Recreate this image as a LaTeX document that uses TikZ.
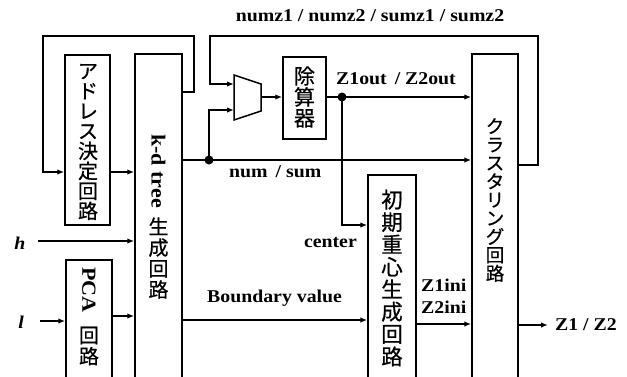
\documentclass[tikz,border=0pt]{standalone}
\usepackage{fontspec}
\setmainfont[FakeStretch=1.1]{Liberation Serif}
\newfontfamily\cjk[FakeBold=0.6]{Noto Sans CJK JP}
\usetikzlibrary{arrows.meta,calc}
\begin{document}
\begin{tikzpicture}[x=1pt,y=-1pt,
  blk/.style={draw, line width=1.5pt, inner sep=0pt},
  arr/.style={-{Latex[length=7pt,width=5.5pt]}, line width=1.4pt},
  lbl/.style={font=\bfseries\fontsize{18}{20}\selectfont, inner sep=0pt},
  rlbl/.style={font=\bfseries\fontsize{20}{22}\selectfont, inner sep=0pt, rotate=-90},
  ilbl/.style={font=\bfseries\itshape\fontsize{18}{20}\selectfont, inner sep=0pt},
  jp/.style={font=\cjk\fontsize{20}{20}\selectfont, align=center, inner sep=0pt},
  dot/.style={circle, fill, inner sep=0pt, minimum size=9pt}]
\useasboundingbox (0,0) rectangle (627,376);
\clip (0,0) rectangle (627,376);

% blocks
\node[blk, minimum width=45pt, minimum height=170pt] (addr) at (87.5,140) {};
\node[blk, minimum width=47pt, minimum height=336pt] (kd) at (158.5,222) {};
\node[blk, minimum width=46pt, minimum height=130pt] (pca) at (89,325) {};
\node[blk, minimum width=43pt, minimum height=82pt] (div) at (304.5,98) {};
\node[blk, minimum width=48pt, minimum height=215pt] (init) at (392,282.5) {};
\node[blk, minimum width=46pt, minimum height=336pt] (clus) at (495,222) {};

% multiplexer
\draw[line width=1.5pt] (234,75) -- (261,84) -- (261,111) -- (234,120) -- cycle;
\coordinate (mi1) at (234,84);
\coordinate (mi2) at (234,110);
\coordinate (mo) at (261,97);

% block texts
\node[jp] (taddr) at (88,142) {ア\\ド\\レ\\ス\\決\\定\\回\\路};
\node[rlbl] (tkd) at (158.5,171) {k-d tree};
\node[jp, font=\cjk\fontsize{20}{21}\selectfont] (tkd2) at (158.5,258) {生\\成\\回\\路};
\node[rlbl] (tpca) at (89,290) {PCA};
\node[jp, font=\cjk\fontsize{20}{21}\selectfont] (tpca2) at (89,346) {回\\路};
\node[jp, font=\cjk\fontsize{21}{21}\selectfont] (tdiv) at (304.5,97) {除\\算\\器};
\node[jp, font=\cjk\fontsize{21.5}{22.4}\selectfont] (tinit) at (392,278) {初\\期\\重\\心\\生\\成\\回\\路};
\node[jp, font=\cjk\fontsize{18.5}{18.4}\selectfont] (tclus) at (495,200) {ク\\ラ\\ス\\タ\\リ\\ン\\グ\\回\\路};

% labels
\node[lbl] (lnum) at (370,16) {numz1 / numz2 / sumz1 / sumz2};
\node[lbl, anchor=west] (lz) at (336,79) {Z1out\hspace{3pt} / Z2out};
\node[lbl, anchor=west] (lns) at (229,172) {num\hspace{3pt} / sum};
\node[lbl, anchor=east] (lc) at (357,243) {center};
\node[lbl, anchor=west] (lb) at (207,298) {Boundary value};
\node[lbl, anchor=west] (lz1) at (421,285) {Z1ini};
\node[lbl, anchor=west] (lz2) at (421,307) {Z2ini};
\node[lbl, anchor=west] (lout) at (555,325) {Z1 / Z2};
\node[ilbl] (h) at (20,243) {h};
\node[ilbl] (l) at (21,322) {l};

% connectors
\draw[arr] (kd.east |- 0,92) -- (194,92) -- (194,36) -- (43,36) -- (43,172) -- (addr.west |- 0,172);
\draw[arr] (addr.east |- 0,172) -- (kd.west |- 0,172);
\coordinate (hs) at (38,241);
\draw[arr] (hs) -- (kd.west |- hs);
\coordinate (ls) at (40,321);
\draw[arr] (ls) -- (pca.west |- ls);
\draw[arr] (pca.east |- 0,316) -- (kd.west |- 0,316);

\node[dot] (d1) at (209,160) {};
\draw[arr] (kd.east |- d1) -- (clus.west |- d1);
\draw[arr] (d1.center) -- (d1.center |- mi2) -- (mi2);
\draw[arr] (clus.east |- 0,165) -- (538,165) -- (538,36) -- (210,36) -- (210,84) -- (mi1);
\draw[arr] (mo) -- (div.west |- mo);

\node[dot] (d2) at (342,97) {};
\draw[arr] (div.east |- d2) -- (clus.west |- d2);
\draw[arr] (d2.center) -- (342,225) -- (init.west |- 0,225);
\draw[arr] (kd.east |- 0,320) -- (init.west |- 0,320);
\draw[arr] (init.east |- 0,324) -- (clus.west |- 0,324);
\coordinate (zo) at (548,325);
\draw[arr] (clus.east |- zo) -- (zo);
\end{tikzpicture}
\end{document}
